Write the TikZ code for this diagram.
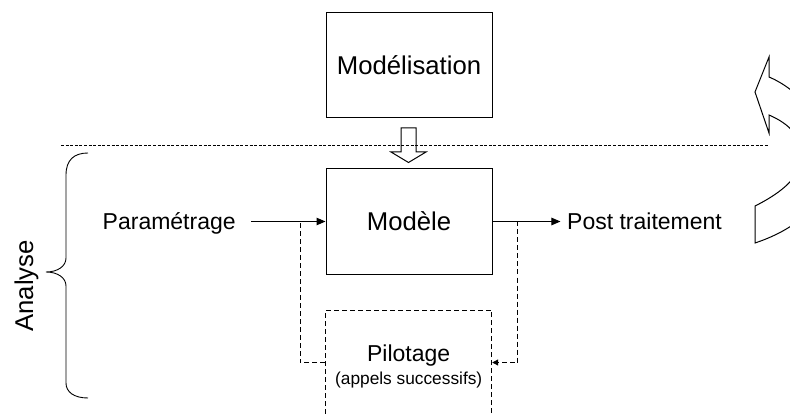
\documentclass[tikz,border=0pt]{standalone}
\usepackage{fontspec}
\setmainfont{Liberation Sans}
\usetikzlibrary{arrows.meta}
\begin{document}
\begin{tikzpicture}[x=1pt,y=-1pt,
  boxstyle/.style={draw,line width=1pt,minimum width=166pt,minimum height=105pt,inner sep=0pt,font=\fontsize{25.7}{30}\selectfont},
  dashbox/.style={draw,line width=1pt,dash pattern=on 5pt off 3pt,minimum width=166pt,minimum height=105pt,inner sep=0pt},
  bigtxt/.style={font=\fontsize{25.7}{30}\selectfont,inner sep=0pt},
  midtxt/.style={font=\fontsize{23}{27}\selectfont,inner sep=0pt},
  smalltxt/.style={font=\fontsize{17.3}{20}\selectfont,inner sep=0pt},
  arr/.style={line width=1pt,-{Triangle[length=9pt,width=7.5pt]}},
  dasharr/.style={line width=1pt,dash pattern=on 5pt off 3pt},
  divider/.style={line width=0.8pt,dash pattern=on 3pt off 1.6pt},
  outline/.style={line width=1pt,line join=miter}]
\useasboundingbox (0,0) rectangle (790,414);
\clip (0,0) rectangle (790,414);

% divider
\coordinate (dl) at (61,145);
\coordinate (dr) at (769,145);
\draw[divider] (dl) -- (dr);

% boxes
\node[boxstyle] (modelisation) at (409,65) {Modélisation};
\node[boxstyle] (modele) at (409,221.5) {Modèle};
\node[dashbox] (pilot) at (408.7,362.5) {};
\node[midtxt,anchor=base] (pilottxt) at (408.7,361) {Pilotage};
\node[smalltxt,anchor=base] (appels) at (408.7,384) {(appels successifs)};

% side texts
\node[midtxt,anchor=base,inner xsep=15.5pt] (param) at (169.2,229.5) {Paramétrage};
\node[midtxt,anchor=base,inner xsep=6.5pt] (post) at (644.5,229.5) {Post traitement};
\node[bigtxt,anchor=base,rotate=90] (analyse) at (33,286) {Analyse};

% arrows
\draw[arr] (param.east |- modele.west) -- (modele.west);
\draw[arr] (modele.east) -- (post.west |- modele.east);

% dashed feedback
\coordinate (jl) at (300,221.5);
\coordinate (jr) at (517.7,221.5);
\draw[dasharr] (pilot.west) -| (jl);
\draw[dasharr,-{Triangle[length=6pt,width=6pt]}] (jr) |- (pilot.east);

% block arrow down
\draw[outline] (401,128) -- (416,128) -- (416,152) -- (426,152) -- (408.5,162.5) -- (391,152) -- (401,152) -- cycle;

% brace
\draw[line width=0.9pt] (88,153) .. controls (74,153) and (66,160) .. (66,175) -- (66,258)
  .. controls (66,266) and (58,272) .. (46,272)
  .. controls (58,272) and (66,278) .. (66,286) -- (66,383)
  .. controls (66,392) and (74,398) .. (88,398);

% curved arrow at right edge
\draw[outline] (755,243) -- (755,206)
  .. controls (775,196) and (800,180) .. (802,158)
  .. controls (803,138) and (790,124) .. (769,115)
  -- (769,133) -- (755,92) -- (769,57) -- (769,77)
  .. controls (800,90) and (830,125) .. (830,160)
  .. controls (830,200) and (800,228) .. (755,243) -- cycle;
\end{tikzpicture}
\end{document}
